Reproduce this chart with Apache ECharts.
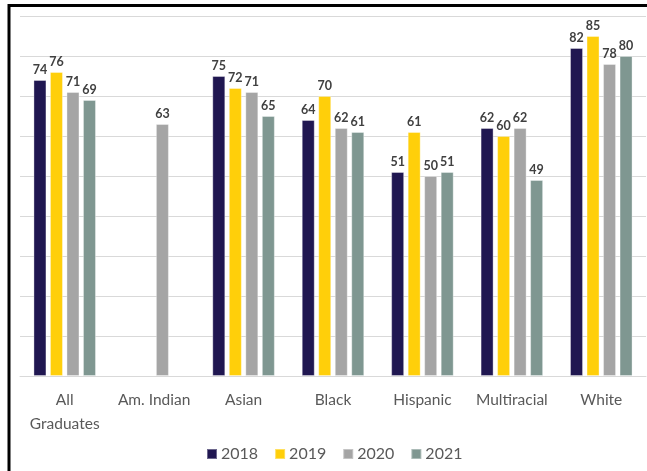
<!DOCTYPE html>
<html>
<head>
<meta charset="utf-8">
<script src="https://cdn.jsdelivr.net/npm/echarts@6/dist/echarts.min.js"></script>
<style>
  html, body { margin: 0; padding: 0; background: #ffffff; }
  #chart { width: 647px; height: 471px; }
</style>
</head>
<body>
<div id="chart"></div>
<script>
// Graduation rate (%) by student group and year
const categories = ['All\nGraduates', 'Am. Indian', 'Asian', 'Black', 'Hispanic', 'Multiracial', 'White'];
const years = ['2018', '2019', '2020', '2021'];
const values2018 = [74, null, 75, 64, 51, 62, 82];
const values2019 = [76, null, 72, 70, 61, 60, 85];
const values2020 = [71, 63, 71, 62, 50, 62, 78];
const values2021 = [69, null, 65, 61, 51, 49, 80];
const seriesValues = [values2018, values2019, values2020, values2021];
const colors = ['#201751', '#FFCF0A', '#A5A5A5', '#7F9791'];

const FONT = 'Lato';

const chart = echarts.init(document.getElementById('chart'), null, { renderer: 'canvas' });

chart.setOption({
  animation: false,
  backgroundColor: '#ffffff',
  color: colors,
  grid: { left: 20, right: 1, top: 16, bottom: 95, containLabel: false },
  legend: {
    data: years,
    top: 441,
    left: 201,
    itemWidth: 10,
    itemHeight: 10,
    itemGap: 16,
    icon: 'rect',
    textStyle: { fontFamily: FONT, fontSize: 16, color: '#595959', padding: [0, 0, 0, -1] }
  },
  xAxis: {
    type: 'category',
    data: categories,
    axisLine: { lineStyle: { color: '#D9D9D9', width: 1 } },
    axisTick: { show: false },
    axisLabel: {
      fontFamily: FONT,
      fontSize: 15.5,
      color: '#595959',
      lineHeight: 24,
      margin: 12,
      interval: 0
    }
  },
  yAxis: {
    type: 'value',
    min: 0,
    max: 90,
    interval: 10,
    axisLabel: { show: false },
    axisLine: { show: false },
    axisTick: { show: false },
    splitLine: { lineStyle: { color: '#D9D9D9', width: 1 } }
  },
  series: seriesValues.map((vals, i) => ({
    name: years[i],
    type: 'bar',
    data: vals,
    barWidth: 13,
    barGap: '27%',
    itemStyle: { color: colors[i], borderColor: 'rgba(255,255,255,0.35)', borderWidth: 1 },
    label: {
      show: true,
      position: 'top',
      distance: 4,
      fontFamily: FONT,
      fontWeight: 'bold',
      fontSize: 12.5,
      color: '#404040'
    }
  })),
  graphic: [
    {
      type: 'polyline',
      silent: true,
      shape: { points: [[9, 471], [9, 5.5], [647, 5.5]] },
      style: { stroke: '#000000', lineWidth: 3, fill: null }
    }
  ]
});
</script>
</body>
</html>
